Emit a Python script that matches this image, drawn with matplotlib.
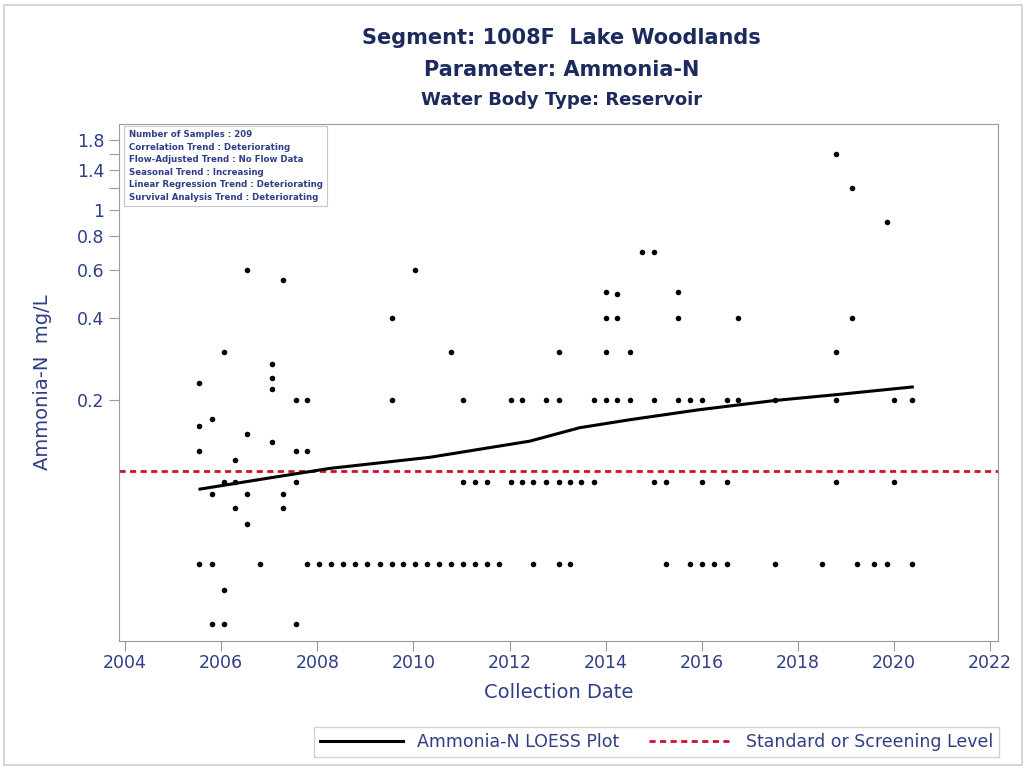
import numpy as np
import matplotlib
matplotlib.use("Agg")
import matplotlib.pyplot as plt
from matplotlib.patches import Rectangle
from matplotlib.ticker import FixedLocator, FixedFormatter, NullLocator

plt.rcParams['font.family'] = ['DejaVu Sans']

#____________________________________________________________________________
#                          DATA
#____________________________________________________________________________
# collection dates as decimal years, ammonia-N in mg/L
sample_dates = [
    2005.54, 2005.54, 2005.54, 2005.54,
    2005.81, 2005.81, 2005.81, 2005.81,
    2006.06, 2006.06, 2006.06, 2006.06,
    2006.28, 2006.28, 2006.28,
    2006.53, 2006.53, 2006.53, 2006.53,
    2006.80,
    2007.05, 2007.05, 2007.05, 2007.05,
    2007.28, 2007.28, 2007.28,
    2007.55, 2007.55, 2007.55, 2007.55,
    2007.78, 2007.78, 2007.78,
    2008.03, 2008.28, 2008.53, 2008.78, 2009.03, 2009.30,
    2009.55, 2009.55, 2009.55,
    2009.79,
    2010.04, 2010.04,
    2010.29, 2010.54,
    2010.79, 2010.79,
    2011.04, 2011.04, 2011.04,
    2011.29, 2011.29,
    2011.54, 2011.54,
    2011.79,
    2012.04, 2012.04,
    2012.27, 2012.27,
    2012.49, 2012.49,
    2012.76, 2012.76,
    2013.03, 2013.03, 2013.03, 2013.03,
    2013.26, 2013.26,
    2013.49,
    2013.76, 2013.76,
    2014.01, 2014.01, 2014.01, 2014.01,
    2014.24, 2014.24, 2014.24,
    2014.51, 2014.51,
    2014.76,
    2015.01, 2015.01, 2015.01,
    2015.26, 2015.26,
    2015.51, 2015.51, 2015.51,
    2015.75, 2015.75,
    2016.00, 2016.00, 2016.00,
    2016.25,
    2016.52, 2016.52, 2016.52,
    2016.75, 2016.75,
    2017.52, 2017.52,
    2018.50,
    2018.79, 2018.79, 2018.79, 2018.79,
    2019.12, 2019.12,
    2019.24, 2019.58,
    2019.85, 2019.85,
    2020.01, 2020.01,
    2020.37, 2020.37,
]
sample_values = [
    0.23, 0.16, 0.13, 0.05,
    0.17, 0.09, 0.05, 0.03,
    0.30, 0.10, 0.04, 0.03,
    0.12, 0.10, 0.08,
    0.60, 0.15, 0.09, 0.07,
    0.05,
    0.27, 0.24, 0.22, 0.14,
    0.55, 0.09, 0.08,
    0.20, 0.13, 0.10, 0.03,
    0.20, 0.13, 0.05,
    0.05, 0.05, 0.05, 0.05, 0.05, 0.05,
    0.40, 0.20, 0.05,
    0.05,
    0.60, 0.05,
    0.05, 0.05,
    0.30, 0.05,
    0.20, 0.10, 0.05,
    0.10, 0.05,
    0.10, 0.05,
    0.05,
    0.20, 0.10,
    0.20, 0.10,
    0.10, 0.05,
    0.20, 0.10,
    0.30, 0.20, 0.10, 0.05,
    0.10, 0.05,
    0.10,
    0.20, 0.10,
    0.50, 0.40, 0.30, 0.20,
    0.49, 0.40, 0.20,
    0.30, 0.20,
    0.70,
    0.70, 0.20, 0.10,
    0.10, 0.05,
    0.50, 0.40, 0.20,
    0.20, 0.05,
    0.20, 0.10, 0.05,
    0.05,
    0.20, 0.10, 0.05,
    0.40, 0.20,
    0.20, 0.05,
    0.05,
    1.60, 0.30, 0.20, 0.10,
    1.20, 0.40,
    0.05, 0.05,
    0.90, 0.05,
    0.20, 0.10,
    0.20, 0.05,
]

# LOESS curve
loess_dates = [2005.56, 2006.81, 2008.26, 2010.34, 2012.42, 2013.46,
               2014.50, 2015.95, 2017.53, 2018.80, 2020.38]
loess_values = [0.094, 0.102, 0.112, 0.123, 0.141, 0.158,
                0.169, 0.184, 0.199, 0.209, 0.223]

screening_level = 0.11

stats_lines = [
    "Number of Samples : 209",
    "Correlation Trend : Deteriorating",
    "Flow-Adjusted Trend : No Flow Data",
    "Seasonal Trend : Increasing",
    "Linear Regression Trend : Deteriorating",
    "Survival Analysis Trend : Deteriorating",
]

y_ticks = [0.2, 0.4, 0.6, 0.8, 1, 1.2, 1.4, 1.6, 1.8]
y_tick_labels = ["0.2", "0.4", "0.6", "0.8", "1", "", "1.4", "", "1.8"]
x_ticks = list(range(2004, 2023, 2))

#____________________________________________________________________________
#                                 PLOT
#____________________________________________________________________________
navy = "#1c2a5e"
blue = "#2f3f85"
grey = "#9a9a9a"

fig = plt.figure(figsize=(10.26, 7.70), dpi=100)
ax = fig.add_axes([0.116, 0.1675, 0.857, 0.672])

ax.scatter(sample_dates, sample_values, s=16, color="black", zorder=3, linewidths=0)
ax.plot(loess_dates, loess_values, color="black", lw=2.2, zorder=4,
        label="Ammonia-N LOESS Plot")
ax.axhline(screening_level, color="#d0102a", lw=2, ls=(0, (2.2, 1.6)), zorder=2,
           label="Standard or Screening Level")

ax.set_yscale("log")
ax.set_ylim(0.026, 2.07)
ax.set_xlim(2003.875, 2022.17)
ax.yaxis.set_major_locator(FixedLocator(y_ticks))
ax.yaxis.set_major_formatter(FixedFormatter(y_tick_labels))
ax.yaxis.set_minor_locator(NullLocator())
ax.set_xticks(x_ticks)

for s in ax.spines.values():
    s.set_color(grey)
ax.tick_params(colors=grey, labelcolor=blue, labelsize=12.5, length=7)
ax.tick_params(axis="x", pad=2)

ax.set_xlabel("Collection Date", color=blue, fontsize=14, labelpad=8)
ax.set_ylabel("Ammonia-N  mg/L", color=blue, fontsize=14, labelpad=18)

# summary box
ax.text(0.011, 0.987, "\n".join(stats_lines), transform=ax.transAxes,
        ha="left", va="top", fontsize=6.2, fontweight="bold", color=blue,
        linespacing=1.5,
        bbox=dict(boxstyle="square,pad=0.5", fc="white", ec="#c8c8c8", lw=0.8))

# titles
fig.text(0.547, 0.950, "Segment: 1008F  Lake Woodlands", ha="center", va="center",
         fontsize=15, fontweight="bold", color=navy)
fig.text(0.547, 0.909, "Parameter: Ammonia-N", ha="center", va="center",
         fontsize=15, fontweight="bold", color=navy)
fig.text(0.547, 0.870, "Water Body Type: Reservoir", ha="center", va="center",
         fontsize=13, fontweight="bold", color=navy)

leg = fig.legend(loc="center", bbox_to_anchor=(0.640, 0.036), ncol=2,
                 fontsize=12.5, frameon=True, fancybox=False, edgecolor="#c8c8c8",
                 handlelength=4.8, columnspacing=1.7, borderpad=0.35)
for t in leg.get_texts():
    t.set_color(blue)

# outer border
fig.patches.append(Rectangle((0.004, 0.006), 0.992, 0.987, transform=fig.transFigure,
                             fill=False, ec="#cfcfcf", lw=1.2))

plt.savefig("out.png", dpi=100)
